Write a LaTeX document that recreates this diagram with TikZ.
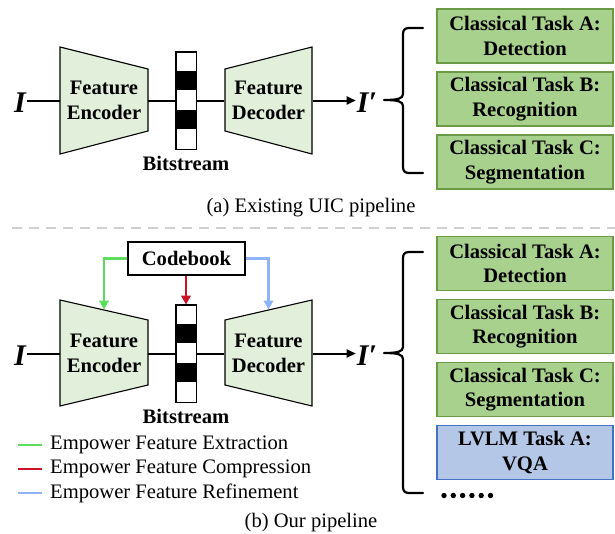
\documentclass[tikz,border=0pt]{standalone}
\usepackage{fontspec}
\setmainfont{Liberation Serif}
\usetikzlibrary{arrows.meta}

\definecolor{encfill}{HTML}{E2EFDA}
\definecolor{taskfill}{HTML}{A9D18E}
\definecolor{taskdraw}{HTML}{6A9A45}
\definecolor{lvlmfill}{HTML}{B4C7E7}
\definecolor{lvlmdraw}{HTML}{4472C4}
\definecolor{cgreen}{HTML}{5CDE5C}
\definecolor{cred}{HTML}{CC1026}
\definecolor{cblue}{HTML}{8DB4F6}
\definecolor{sepgray}{HTML}{CFCFCF}

\newcommand{\bigfs}{\fontsize{20.6}{24.5}\selectfont}

\tikzset{
  coder/.style={draw=black, line width=1.1pt, fill=encfill},
  coderlabel/.style={rectangle, inner sep=0pt, minimum width=88pt, minimum height=107pt,
    align=center, font=\bigfs\bfseries},
  bitbox/.style={rectangle, draw=black, line width=0.9pt, fill=white, inner sep=0pt,
    minimum width=20pt, minimum height=97pt},
  taskbox/.style={rectangle, draw=taskdraw, fill=taskfill, line width=1.6pt, inner sep=0pt,
    minimum width=176pt, minimum height=54pt, align=center, font=\bigfs\bfseries},
  lvlmbox/.style={taskbox, draw=lvlmdraw, fill=lvlmfill},
  imglabel/.style={font=\fontsize{30}{30}\selectfont\bfseries\itshape, inner sep=1pt},
  pipe/.style={line width=2pt, black},
  tip/.style={-{Triangle[length=9pt,width=8pt]}},
  feed/.style={line width=2.6pt, -{Triangle[length=9pt,width=9.5pt]}},
  brace/.style={line width=2.2pt, line cap=round, line join=round},
  caption/.style={font=\bigfs, inner sep=0pt},
  legendtext/.style={font=\bigfs, anchor=west, inner sep=0pt},
}

\begin{document}
\begin{tikzpicture}[x=1pt, y=-1pt]
\useasboundingbox (0,0) rectangle (615,533);

% ---------------- (a) existing pipeline ----------------
\draw[coder] (60,47) -- (148,69) -- (148,131) -- (60,154) -- cycle;
\draw[coder] (225,69) -- (312,47) -- (312,154) -- (225,131) -- cycle;
\node[coderlabel] (encA) at (104,100.5) {Feature\\Encoder};
\node[coderlabel] (decA) at (268.5,100.5) {Feature\\Decoder};

\node[bitbox] (bitA) at (186,100.5) {};
\fill[black] ([yshift=-19.4pt]bitA.north west) rectangle ([yshift=-38.8pt]bitA.north east);
\fill[black] ([yshift=-58.2pt]bitA.north west) rectangle ([yshift=-77.6pt]bitA.north east);
\draw[line width=0.9pt] (bitA.north west) rectangle (bitA.south east);
\node[font=\bigfs\bfseries, inner sep=0pt] (bslA) at (186,163) {Bitstream};

\node[imglabel] (inA) at (20,103) {I};
\node[imglabel] (outA) at (367,103) {I′};

\draw[pipe] (inA.east |- encA.west) -- (encA.west);
\draw[pipe] (encA.east) -- (bitA.west);
\draw[pipe] (bitA.east) -- (decA.west);
\draw[pipe, tip] (decA.east) -- (decA.east -| outA.west);

\draw[brace] (423,28) -- (409,28) .. controls (405,28) and (403,30) .. (403,34)
  -- (403,94) .. controls (403,98.5) and (398,100) .. (384,100)
  .. controls (398,100) and (403,101.5) .. (403,106)
  -- (403,167) .. controls (403,171) and (405,173) .. (409,173) -- (423,173);

\node[taskbox] (tA1) at (525,36)  {Classical Task A:\\Detection};
\node[taskbox] (tA2) at (525,99)  {Classical Task B:\\Recognition};
\node[taskbox] (tA3) at (525,162) {Classical Task C:\\Segmentation};

\node[caption] (capA) at (311,208) {(a) Existing UIC pipeline};

% separator
\draw[sepgray, line width=2pt, dash pattern=on 10pt off 7pt] (12,228) -- (615,228);

% ---------------- (b) our pipeline ----------------
\draw[coder] (60,300) -- (148,320) -- (148,385) -- (60,406) -- cycle;
\draw[coder] (225,320) -- (312,300) -- (312,406) -- (225,385) -- cycle;
\node[coderlabel] (encB) at (104,353.5) {Feature\\Encoder};
\node[coderlabel] (decB) at (268.5,353.5) {Feature\\Decoder};

\node[bitbox] (bitB) at (186,353.5) {};
\fill[black] ([yshift=-19.4pt]bitB.north west) rectangle ([yshift=-38.8pt]bitB.north east);
\fill[black] ([yshift=-58.2pt]bitB.north west) rectangle ([yshift=-77.6pt]bitB.north east);
\draw[line width=0.9pt] (bitB.north west) rectangle (bitB.south east);
\node[font=\bigfs\bfseries, inner sep=0pt] (bslB) at (186,416) {Bitstream};

\node[imglabel] (inB) at (20,356) {I};
\node[imglabel] (outB) at (367,356) {I′};

\draw[pipe] (inB.east |- encB.west) -- (encB.west);
\draw[pipe] (encB.east) -- (bitB.west);
\draw[pipe] (bitB.east) -- (decB.west);
\draw[pipe, tip] (decB.east) -- (decB.east -| outB.west);

% codebook and its three feeds
\node[draw=black, line width=1.8pt, fill=white, minimum width=117pt, minimum height=33pt,
  inner sep=0pt, font=\bigfs\bfseries] (code) at (186.5,258.5) {Codebook};
\coordinate (encBtop) at (104,309.5);
\coordinate (decBtop) at (268.5,309.5);
\draw[feed, cgreen] (code.west) -| (encBtop);
\draw[feed, cblue] (code.east) -| (decBtop);
\draw[feed, cred] (code.south -| bitB.north) -- (bitB.north);

\draw[brace] (423,252) -- (409,252) .. controls (405,252) and (403,254) .. (403,258)
  -- (403,347) .. controls (403,351.5) and (398,353) .. (384,353)
  .. controls (398,353) and (403,354.5) .. (403,359)
  -- (403,487) .. controls (403,491) and (405,493) .. (409,493) -- (423,493);

\node[taskbox] (tB1) at (525,263.5) {Classical Task A:\\Detection};
\node[taskbox] (tB2) at (525,326.5) {Classical Task B:\\Recognition};
\node[taskbox] (tB3) at (525,389.5) {Classical Task C:\\Segmentation};
\node[lvlmbox] (tB4) at (525,452.5) {LVLM Task A:\\VQA};

\foreach \i in {0,...,5} {
  \fill (444+9.3*\i,495.5) circle (2.7pt);
}

% legend
\node[legendtext] (lg1) at (50,445) {Empower Feature Extraction};
\node[legendtext] (lg2) at (50,469) {Empower Feature Compression};
\node[legendtext] (lg3) at (50,493) {Empower Feature Refinement};
\draw[cgreen, line width=2.6pt] ([xshift=-32pt]lg1.west) -- ([xshift=-8pt]lg1.west);
\draw[cred, line width=2.6pt] ([xshift=-32pt]lg2.west) -- ([xshift=-8pt]lg2.west);
\draw[cblue, line width=2.6pt] ([xshift=-32pt]lg3.west) -- ([xshift=-8pt]lg3.west);

\node[caption] (capB) at (311,523) {(b) Our pipeline};
\end{tikzpicture}
\end{document}
